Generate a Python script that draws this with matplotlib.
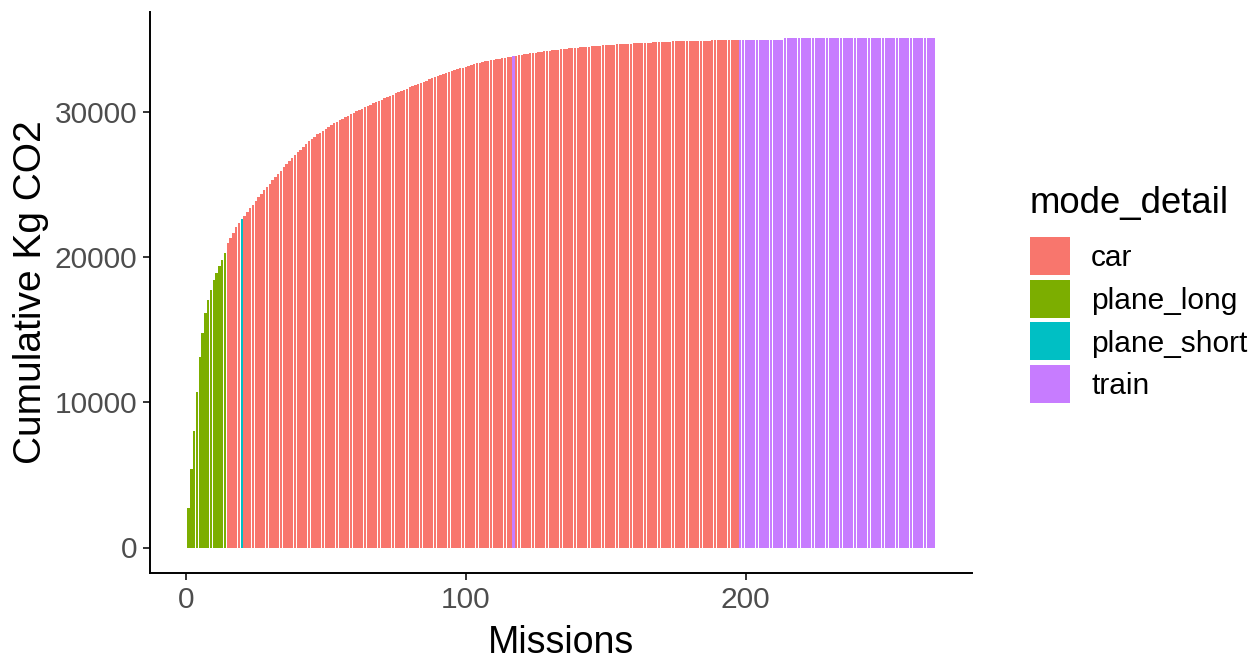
import matplotlib
matplotlib.use('Agg')
import matplotlib.pyplot as plt
from matplotlib.patches import Rectangle
import numpy as np

plt.rcParams['font.family'] = ['Liberation Sans', 'DejaVu Sans']

# Modos de transporte y colores (paleta por defecto de ggplot)
modes = ['car', 'plane_long', 'plane_short', 'train']
modeColors = ['#F8766D', '#7CAE00', '#00BFC4', '#C77CFF']

# Orden de las misiones: (modo, numero de misiones seguidas)
modeRuns = [('plane_long', 14), ('car', 5), ('plane_short', 1), ('car', 96),
            ('train', 1), ('car', 80), ('train', 70)]

# Kg CO2 por mision, en el orden del grafico
emissions = [
    # 1-14 plane_long
    2700, 2700, 2600, 2700, 2450, 1650, 1350, 900, 700, 650, 500, 450, 450, 500,
    # 15-20 (20 = plane_short)
    650, 350, 350, 400, 300, 250,
    # 21-38
    259, 256, 253, 250, 247, 244, 241, 238, 235, 232, 229, 226, 223, 220, 217, 214, 211, 208,
    # 39-45
    205, 200, 196, 193, 190, 185, 181,
    # 46-57
    145, 141, 137, 133, 129, 125, 121, 117, 113, 109, 105, 101,
    # 58-69
    104, 102, 100, 98, 96, 94, 92, 90, 89, 88, 87, 86,
    # 70-81
    86, 86, 86, 85, 85, 85, 84, 84, 84, 83, 83, 83,
    # 82-88
    80, 78, 77, 76, 74, 73, 72,
    # 89-100
    72, 71, 70, 70, 69, 68, 68, 67, 66, 66, 66, 66,
    # 101-117 (117 = train)
    58, 55, 52, 50, 48, 46, 44, 42, 40, 38, 37, 36, 35, 34, 33, 32, 42,
    # 118-150
    32, 32, 30, 30, 29, 29, 28, 28, 27, 27, 25, 25, 24, 24, 23, 23, 22, 22, 21, 21,
    20, 20, 19, 19, 18, 18, 17, 17, 17, 16, 16, 16, 15,
    # 151-162
    15, 14, 13, 13, 12, 12, 11, 11, 11, 10, 10, 8,
    # 163-176
    11, 11, 10, 10, 10, 9, 9, 9, 9, 9, 9, 8, 8, 8,
    # 177-197
    6, 6, 5, 5, 5, 4, 4, 4, 4, 3, 3, 3, 3, 3, 2, 2, 2, 2, 2, 1, 1,
    # 198-213 train
    5, 5, 4, 4, 4, 3, 3, 3, 3, 3, 3, 2, 2, 2, 2, 2,
    # 214
    100,
    # 215-267
    2, 1, 1, 1, 1, 1, 1, 1, 1, 1, 1, 1, 1, 1, 1, 1, 1, 1, 1, 1,
    1, 1, 1, 1, 1, 1, 1, 1, 1, 1, 1, 1, 1, 1, 1, 1, 1, 0, 0, 0,
    0, 0, 0, 0, 0, 0, 0, 0, 0, 0, 0, 0, 0,
]

missionModes = []
for mode, n in modeRuns:
    missionModes += [mode] * n

missions = np.arange(1, len(emissions) + 1)
cumulative = np.cumsum(emissions)
colorOf = dict(zip(modes, modeColors))
barColors = [colorOf[m] for m in missionModes]

W, H = 1251, 660
fig = plt.figure(figsize=(W / 100, H / 100), dpi=100)
ax = fig.add_axes([150 / W, 87 / H, 822 / W, 561 / H])

ax.bar(missions, cumulative, width=0.9, color=barColors, linewidth=0)

# Expansion del 5% como en ggplot
xr = (0.55, len(missions) + 0.45)
ax.set_xlim(xr[0] - 0.05 * (xr[1] - xr[0]), xr[1] + 0.05 * (xr[1] - xr[0]))
ymax = cumulative.max()
ax.set_ylim(-0.05 * ymax, 1.05 * ymax)

ax.set_xticks([0, 100, 200])
ax.set_yticks([0, 10000, 20000, 30000])
ax.set_xlabel('Missions', fontsize=27, labelpad=8)
ax.set_ylabel('Cumulative Kg CO2', fontsize=28, labelpad=4)

for side in ['top', 'right']:
    ax.spines[side].set_visible(False)
for side in ['left', 'bottom']:
    ax.spines[side].set_linewidth(1.4)
    ax.spines[side].set_color('black')
ax.tick_params(axis='both', length=5, width=1.4, color='#333333',
               labelcolor='#4D4D4D', labelsize=21.5, pad=4)

# Leyenda dibujada a mano (pixeles de la figura)
lax = fig.add_axes([0, 0, 1, 1])
lax.set_xlim(0, W)
lax.set_ylim(H, 0)
lax.axis('off')
lax.text(1030, 213, 'mode_detail', fontsize=26.3, color='black', va='baseline', ha='left')
keyTop, keyStep, keySize = 237, 42.6, 38
for i, (m, c) in enumerate(zip(modes, modeColors)):
    y0 = keyTop + i * keyStep
    lax.add_patch(Rectangle((1030, y0), 40, keySize, facecolor=c, edgecolor='none'))
    lax.text(1091, y0 + keySize / 2 + 10.5, m, fontsize=21.5, color='black',
             va='baseline', ha='left')

plt.savefig('out.png', dpi=100)
